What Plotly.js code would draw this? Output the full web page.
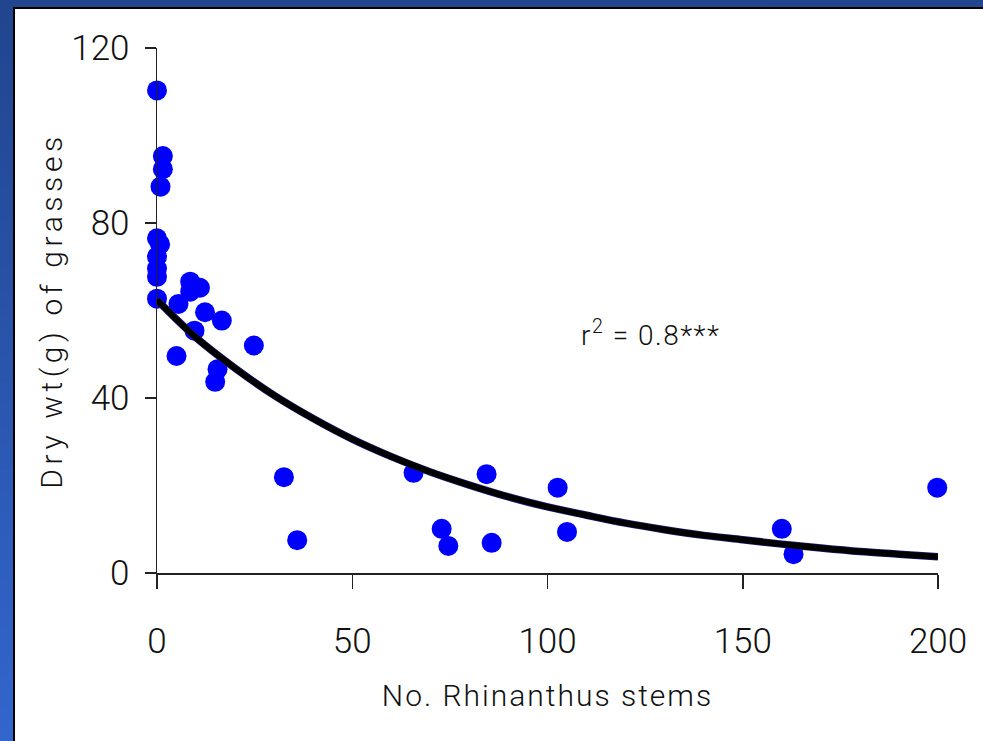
<!DOCTYPE html>
<html>
<head>
<meta charset="utf-8">
<script src="https://cdn.plot.ly/plotly-3.0.1.min.js"></script>
<style>
  html, body { margin: 0; padding: 0; width: 983px; height: 741px; overflow: hidden; }
  body { background: linear-gradient(180deg, #21458e 0%, #2a55ad 50%, #3266cd 100%); position: relative; }
  #frame { position: absolute; left: 13px; top: 7px; width: 970px; height: 734px; background: #000; }
  #chart { position: absolute; left: 15px; top: 9px; width: 968px; height: 732px; background: #fff; }
  .xtitle { letter-spacing: 2px; }
  .ytitle { letter-spacing: 4.6px; }
  .annotation-text { letter-spacing: 1.5px; }
</style>
</head>
<body>
<div id="frame"></div>
<div id="chart"></div>
<script>
// Observed data: number of Rhinanthus stems vs dry weight of grasses (g)
var stems = [0, 1.5, 1.5, 0.9, 0, 0.8, 0, 0, 0, 0,
             8.5, 8.5, 11, 5.5, 12.3, 16.6, 9.6, 5, 24.8, 15.5, 14.9,
             32.5, 35.9, 65.7, 72.9, 74.6, 84.4, 85.7, 102.6, 105,
             160, 163, 199.8];
var dryWt = [110.3, 95.3, 92.3, 88.3, 76.5, 75.1, 72.3, 69.6, 67.7, 62.7,
             66.6, 64.3, 65.2, 61.5, 59.6, 57.7, 55.4, 49.6, 52, 46.6, 43.7,
             21.9, 7.5, 22.9, 10.1, 6.2, 22.6, 6.9, 19.5, 9.4,
             10.1, 4.3, 19.5];

// Fitted curve
var fitX = [0, 10, 20, 30, 40, 50, 60, 70, 80, 90, 100, 110, 120, 130, 140, 150, 160, 170, 180, 190, 200];
var fitY = [62.4, 53.8, 46.8, 40.6, 35.3, 30.6, 26.6, 23.1, 20.1, 17.4, 15.1, 13.2, 11.4, 9.9, 8.6, 7.6, 6.6, 5.7, 4.9, 4.3, 3.7];

var xTicks = [0, 50, 100, 150, 200];
var yTicks = [0, 40, 80, 120];

var xTitle = 'No. Rhinanthus stems';
var yTitle = 'Dry wt(g) of grasses';
var note = 'r<sup>2</sup> = 0.8***';
var notePos = [126.5, 54.8];

var tickFont = { family: 'Roboto, "Liberation Sans", Arial, sans-serif', size: 35, weight: 300, color: '#111' };
var titleFont = { family: 'Roboto, "Liberation Sans", Arial, sans-serif', size: 30, weight: 300, color: '#111' };

var traces = [
  { x: stems, y: dryWt, type: 'scatter', mode: 'markers', cliponaxis: false,
    marker: { color: '#0000ff', size: 20, line: { width: 0 } }, hoverinfo: 'skip' },
  { x: fitX, y: fitY, type: 'scatter', mode: 'lines', cliponaxis: false,
    line: { color: '#1a1a70', width: 7.5, shape: 'spline' }, hoverinfo: 'skip' },
  { x: fitX, y: fitY, type: 'scatter', mode: 'lines', cliponaxis: false,
    line: { color: '#000000', width: 6, shape: 'spline' }, hoverinfo: 'skip' }
];

var layout = {
  width: 968, height: 732,
  paper_bgcolor: '#ffffff', plot_bgcolor: '#ffffff',
  showlegend: false,
  margin: { l: 142, r: 45, t: 39, b: 168 },
  xaxis: {
    range: [0, 200], tickvals: xTicks, ticktext: xTicks.map(String),
    showgrid: false, zeroline: false, showline: true, linecolor: '#222', linewidth: 1.5,
    ticks: 'outside', ticklen: 14, tickwidth: 1.5, tickcolor: '#222',
    tickfont: tickFont, ticklabelstandoff: 22,
    title: { text: xTitle, font: titleFont, standoff: 24 }
  },
  yaxis: {
    range: [0, 120], tickvals: yTicks, ticktext: yTicks.map(String),
    showgrid: false, zeroline: false, showline: true, linecolor: '#222', linewidth: 1.5,
    ticks: 'outside', ticklen: 11, tickwidth: 1.5, tickcolor: '#222',
    tickfont: tickFont, ticklabelstandoff: 8,
    title: { text: yTitle, font: titleFont, standoff: 0 }
  },
  annotations: [{
    x: notePos[0], y: notePos[1], xref: 'x', yref: 'y', text: note, showarrow: false,
    font: { family: 'Roboto, "Liberation Sans", Arial, sans-serif', size: 28, weight: 300, color: '#111' }
  }]
};

Plotly.newPlot('chart', traces, layout, { displayModeBar: false, staticPlot: true });
</script>
</body>
</html>
